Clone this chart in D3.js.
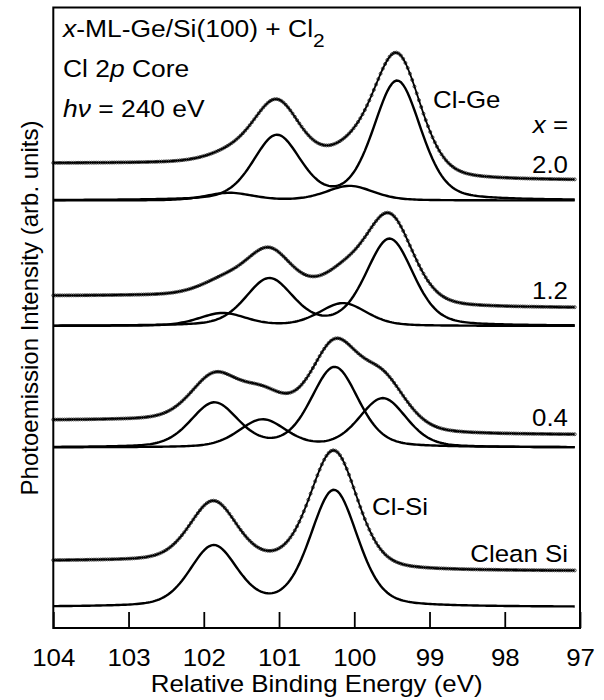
<!DOCTYPE html>
<html lang="en">
<head>
<meta charset="utf-8">
<title>Cl 2p core spectra</title>
<script src="https://d3js.org/d3.v7.min.js"></script>
<style>
  body { margin: 0; background: #fff; }
  svg text { font-family: "Liberation Sans", Arial, Helvetica, sans-serif; fill: #000; }
  .frame { fill: none; stroke: #000; stroke-width: 2; }
  .curve { fill: none; stroke: #000; stroke-width: 2.4; }
  .fit { fill: none; stroke: #000; stroke-width: 1.8; }
  .dot { fill: none; stroke: #000; stroke-width: 0.7; }
  .axis line { stroke: #000; stroke-width: 1.8; }
</style>
</head>
<body>
<script>

// tick labels of the binding energy axis (eV)
var energyTicks = [104, 103, 102, 101, 100, 99, 98, 97];

// one spectrum per Ge coverage, top to bottom
var coverage = ["2.0", "1.2", "0.4", "Clean Si"];
// baseline of each spectrum (arb. units)
var baseLevel = [427.5, 302, 180.5, 21];
// background above the baseline at the high and low energy ends
var bgHigh = [37, 30, 27, 46];
var bgLow = [20, 18, 12.5, 36];

// Cl-Ge doublet: 2p3/2 position (eV), 2p3/2 and 2p1/2 heights
var geEnergy = [99.43, 99.53, 99.62, null];
var geHigh32 = [119, 86.7, 49, 0];
var geHigh12 = [64, 46.7, 27.5, 0];
// Cl-Si doublet
var siEnergy = [100.06, 100.15, 100.26, 100.27];
var siHigh32 = [14.5, 22.7, 80, 116.3];
var siHigh12 = [7.5, 12.7, 44, 60.3];

var splitting = 1.6;   // Cl 2p spin-orbit split (eV)
var fwhm = 0.74;       // component width (eV)
var eta = 0.3;         // lorentzian share of the line shape

var w = 604, h = 700;
var padLeft = 53.3, padRight = 580, padTop = 7.5, padBottom = 628;
var stretch = 1.1;

var svg = d3.select("body").append("svg")
    .attr("width", w)
    .attr("height", h);

var xScale = d3.scaleLinear().domain([104, 97]).range([padLeft, padRight]);
var yScale = d3.scaleLinear().domain([0, padBottom - padTop]).range([padBottom, padTop]);

// energies sampled for curves and data points
var grid = d3.range(104, 97.06, -0.03);

function voigt(e, e0, amp) {
    var d = (e - e0) / fwhm;
    var g = Math.exp(-4 * Math.LN2 * d * d);
    var l = 1 / (1 + 4 * d * d);
    return amp * ((1 - eta) * g + eta * l);
}

function doublet(e, e0, a32, a12) {
    if (e0 === null) return 0;
    return voigt(e, e0, a32) + voigt(e, e0 + splitting, a12);
}

var line = d3.line()
    .x(function(d) { return xScale(d.e); })
    .y(function(d) { return yScale(d.v); });

coverage.forEach(function(c, i) {
    var ge = grid.map(function(e) { return doublet(e, geEnergy[i], geHigh32[i], geHigh12[i]); });
    var si = grid.map(function(e) { return doublet(e, siEnergy[i], siHigh32[i], siHigh12[i]); });
    var sum = grid.map(function(e, k) { return ge[k] + si[k]; });

    // shirley type background, grows toward high binding energy
    var cum = new Array(grid.length), acc = 0;
    for (var k = grid.length - 1; k >= 0; k--) { acc += sum[k]; cum[k] = acc; }
    var env = grid.map(function(e, k) {
        var bg = bgLow[i] + (bgHigh[i] - bgLow[i]) * cum[k] / acc;
        return { e: e, v: baseLevel[i] + bg + sum[k] };
    });

    [ge, si].forEach(function(comp, j) {
        if (j === 0 && geEnergy[i] === null) return;
        svg.append("path")
            .datum(grid.map(function(e, k) { return { e: e, v: baseLevel[i] + comp[k] }; }))
            .attr("class", "curve")
            .attr("d", line);
    });

    svg.append("path")
        .datum(env)
        .attr("class", "fit")
        .attr("d", line);

    svg.selectAll(".dot" + i)
        .data(env)
        .enter().append("circle")
        .attr("class", "dot")
        .attr("cx", function(d) { return xScale(d.e); })
        .attr("cy", function(d) { return yScale(d.v); })
        .attr("r", 1.5);
});

// frame
svg.append("rect")
    .attr("class", "frame")
    .attr("x", padLeft).attr("y", padTop)
    .attr("width", padRight - padLeft).attr("height", padBottom - padTop);

// x axis, ticks pointing inward
var xAxis = d3.axisBottom(xScale)
    .tickValues(energyTicks)
    .tickFormat(d3.format("d"))
    .tickSizeInner(-16)
    .tickSizeOuter(0)
    .tickPadding(21);

var ax = svg.append("g")
    .attr("class", "axis")
    .attr("transform", "translate(0," + padBottom + ")")
    .call(xAxis);
ax.select(".domain").remove();
ax.selectAll("text")
    .attr("fill", "#000")
    .style("font-size", "23.5px")
    .attr("transform", "scale(" + stretch + ",1)");

// text helper: parts = [{t, i (italic), sub}]
function label(x, y, anchor, parts, size) {
    var g = svg.append("g")
        .attr("transform", "translate(" + x + "," + y + ") scale(" + stretch + ",1)");
    var t = g.append("text")
        .attr("text-anchor", anchor)
        .style("font-size", size + "px");
    parts.forEach(function(p) {
        var ts = t.append("tspan").text(p.t);
        if (p.i) ts.style("font-style", "italic");
        if (p.sub) ts.attr("dy", 10).style("font-size", "19px");
    });
}

label(63, 37, "start", [{t: "x", i: true}, {t: "-ML-Ge/Si(100) + Cl"}, {t: "2", sub: true}], 24);
label(63, 77, "start", [{t: "Cl 2"}, {t: "p", i: true}, {t: " Core"}], 24);
label(63, 117, "start", [{t: "hν", i: true}, {t: " = 240 eV"}], 24);

label(433, 108, "start", [{t: "Cl-Ge"}], 23.5);
label(568, 133, "end", [{t: "x", i: true}, {t: " ="}], 23.5);
label(568, 173, "end", [{t: coverage[0]}], 23.5);
label(568, 299, "end", [{t: coverage[1]}], 23.5);
label(568, 426, "end", [{t: coverage[2]}], 23.5);
label(372, 515, "start", [{t: "Cl-Si"}], 23.5);
label(568, 562, "end", [{t: coverage[3]}], 23.5);

label((padLeft + padRight) / 2, 692, "middle", [{t: "Relative Binding Energy (eV)"}], 23.5);

svg.append("text")
    .attr("transform", "translate(38,308) rotate(-90)")
    .attr("text-anchor", "middle")
    .style("font-size", "24px")
    .text("Photoemission Intensity (arb. units)");

</script>
</body>
</html>
